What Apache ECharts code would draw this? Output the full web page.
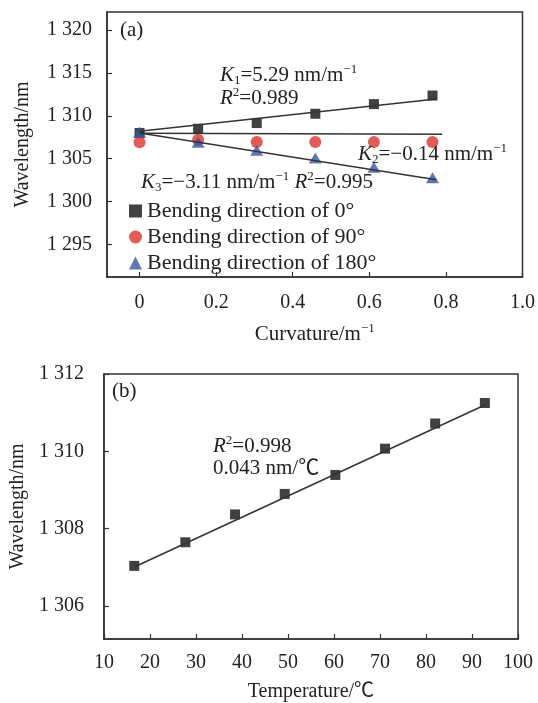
<!DOCTYPE html>
<html>
<head>
<meta charset="utf-8">
<script src="https://cdn.jsdelivr.net/npm/echarts@6/dist/echarts.min.js"></script>
<style>
  html, body { margin: 0; padding: 0; background: #fff; }
  #chart { width: 538px; height: 703px; }
</style>
</head>
<body>
<div id="chart"></div>
<script>
// --- data: (a) curvature ---
const curvature = [0, 0.153, 0.306, 0.459, 0.612, 0.765];
const wl0 = [1308.0, 1308.49, 1309.15, 1310.23, 1311.36, 1312.36];
const wl90 = [1306.9, 1307.2, 1306.94, 1306.94, 1306.94, 1306.94];
const wl180 = [1308.07, 1306.9, 1305.97, 1305.08, 1303.99, 1302.76];
// fitted lines, end points
const fit0X = [0, 0.775], fit0Y = [1308.2, 1311.95];
const fit90X = [0, 0.79], fit90Y = [1307.95, 1307.85];
const fit180X = [0, 0.775], fit180Y = [1308.0, 1302.55];
const xTicksA = [0, 0.2, 0.4, 0.6, 0.8, 1.0];
const yTicksA = [1295, 1300, 1305, 1310, 1315, 1320];

// --- data: (b) temperature ---
const temperature = [16.6, 27.7, 38.5, 49.3, 60.3, 71.1, 82.0, 92.8];
const wlT = [1307.04, 1307.65, 1308.37, 1308.90, 1309.39, 1310.07, 1310.72, 1311.25];
const fitTX = [16.6, 92.8], fitTY = [1307.01, 1311.2];
const xTicksB = [10, 20, 30, 40, 50, 60, 70, 80, 90, 100];
const yTicksB = [1306, 1308, 1310, 1312];

const seriesNames = ['Bending direction of 0°', 'Bending direction of 90°', 'Bending direction of 180°'];

const SERIF = "'Liberation Serif', 'Times New Roman', 'Noto Sans CJK SC', serif";
const INK = '#222';
const AXIS = '#333';

const zip = (xs, ys) => xs.map((x, i) => [x, ys[i]]);
const thousands = v => String(v).replace(/^(\d)(\d{3})$/, '$1 $2');

const rich = {
    n: { fontSize: 21, fontFamily: SERIF, color: INK, lineHeight: 24 },
    i: { fontSize: 21, fontFamily: SERIF, color: INK, lineHeight: 24, fontStyle: 'italic' },
    sub: { fontSize: 13, fontFamily: SERIF, color: INK, lineHeight: 13, verticalAlign: 'bottom' },
    sup: { fontSize: 13, fontFamily: SERIF, color: INK, lineHeight: 13, verticalAlign: 'top' }
};

function note(text, left, cy) {
    return {
        type: 'text', left: left, top: cy - 12, z: 100,
        style: { text: text, rich: rich, fill: INK, font: '21px ' + SERIF }
    };
}

function valueAxis(idx, opts) {
    return Object.assign({
        type: 'value',
        gridIndex: idx,
        axisLine: { show: true, onZero: false, lineStyle: { color: AXIS, width: 1.5 } },
        splitLine: { show: false },
        nameLocation: 'middle',
        nameTextStyle: { fontSize: 20, fontFamily: SERIF, color: INK, rich: rich }
    }, opts);
}

function ticks(values) {
    return { show: true, inside: true, length: 5, customValues: values, lineStyle: { color: AXIS, width: 1.2 } };
}

const lineStyle = { color: '#333', width: 1.5 };

const chart = echarts.init(document.getElementById('chart'));
chart.setOption({
    animation: false,
    backgroundColor: '#fff',
    grid: [
        { left: 107, top: 12, right: 14, height: 265, show: true, borderColor: AXIS, borderWidth: 1.5, backgroundColor: 'transparent' },
        { left: 103, top: 374, right: 20, height: 267, show: true, borderColor: AXIS, borderWidth: 1.5, backgroundColor: 'transparent' }
    ],
    xAxis: [
        valueAxis(0, {
            min: -0.085, max: 1.0,
            name: '{n|Curvature/m}{sup|−1}', nameGap: 45,
            axisTick: ticks(xTicksA),
            axisLabel: { customValues: xTicksA, margin: 16, fontSize: 20, fontFamily: SERIF, color: INK,
                formatter: v => v === 0 ? '0' : v.toFixed(1) }
        }),
        valueAxis(1, {
            min: 10, max: 100,
            name: 'Temperature/℃', nameGap: 43,
            axisTick: ticks(xTicksB),
            axisLabel: { customValues: xTicksB, margin: 14, fontSize: 20, fontFamily: SERIF, color: INK }
        })
    ],
    yAxis: [
        valueAxis(0, {
            min: 1291.2, max: 1322.1,
            name: 'Wavelength/nm', nameGap: 74, nameRotate: 90,
            axisTick: ticks(yTicksA),
            axisLabel: { customValues: yTicksA, margin: 15, fontSize: 20, fontFamily: SERIF, color: INK, formatter: thousands }
        }),
        valueAxis(1, {
            min: 1305.15, max: 1312,
            name: 'Wavelength/nm', nameGap: 74, nameRotate: 90,
            axisTick: ticks(yTicksB),
            axisLabel: { customValues: yTicksB, margin: 20, fontSize: 20, fontFamily: SERIF, color: INK, formatter: thousands }
        })
    ],
    legend: {
        data: seriesNames,
        orient: 'vertical',
        left: 124, top: 195,
        itemWidth: 13, itemHeight: 13, itemGap: 4,
        textStyle: { fontSize: 22, fontFamily: SERIF, color: INK, lineHeight: 21 }
    },
    series: [
        { type: 'line', xAxisIndex: 0, yAxisIndex: 0, data: zip(fit0X, fit0Y), symbol: 'none', lineStyle: lineStyle, silent: true },
        { type: 'line', xAxisIndex: 0, yAxisIndex: 0, data: zip(fit90X, fit90Y), symbol: 'none', lineStyle: lineStyle, silent: true },
        { type: 'line', xAxisIndex: 0, yAxisIndex: 0, data: zip(fit180X, fit180Y), symbol: 'none', lineStyle: lineStyle, silent: true },
        { name: seriesNames[0], type: 'scatter', xAxisIndex: 0, yAxisIndex: 0, data: zip(curvature, wl0),
          symbol: 'rect', symbolSize: 10, itemStyle: { color: '#111' } },
        { name: seriesNames[1], type: 'scatter', xAxisIndex: 0, yAxisIndex: 0, data: zip(curvature, wl90),
          symbol: 'circle', symbolSize: 12, itemStyle: { color: '#e0312a' } },
        { name: seriesNames[2], type: 'scatter', xAxisIndex: 0, yAxisIndex: 0, data: zip(curvature, wl180),
          symbol: 'triangle', symbolSize: [13, 11], itemStyle: { color: '#3656a4' } },
        { type: 'line', xAxisIndex: 1, yAxisIndex: 1, data: zip(fitTX, fitTY), symbol: 'none', lineStyle: lineStyle, silent: true },
        { type: 'scatter', xAxisIndex: 1, yAxisIndex: 1, data: zip(temperature, wlT),
          symbol: 'rect', symbolSize: 10, itemStyle: { color: '#111' } }
    ],
    graphic: [
        note('{n|(a)}', 120, 32),
        note('{i|K}{sub|1}{n|=5.29 nm/m}{sup|−1}', 220, 75),
        note('{i|R}{sup|2}{n|=0.989}', 220, 98),
        note('{i|K}{sub|2}{n|=−0.14 nm/m}{sup|−1}', 358, 154),
        note('{i|K}{sub|3}{n|=−3.11 nm/m}{sup|−1}{n| }{i|R}{sup|2}{n|=0.995}', 141, 182),
        note('{n|(b)}', 112, 393),
        note('{i|R}{sup|2}{n|=0.998}', 213, 446),
        note('{n|0.043 nm/℃}', 213, 470)
    ]
});
</script>
</body>
</html>
